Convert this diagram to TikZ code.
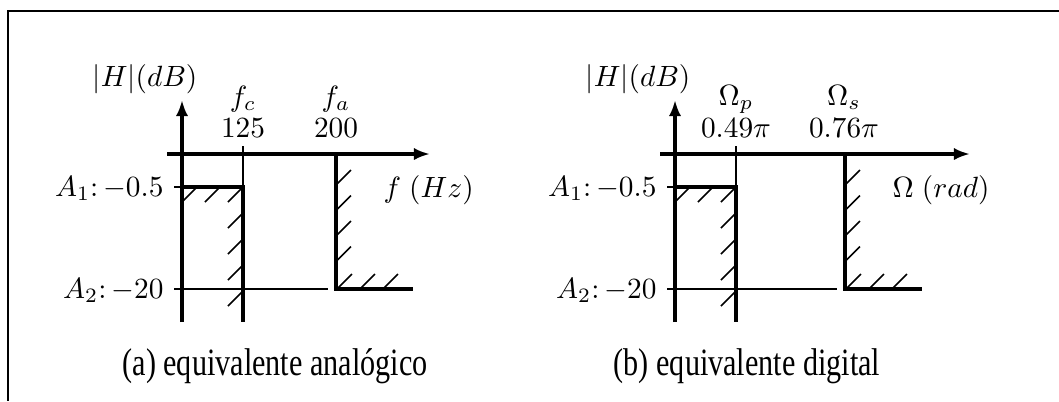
\documentclass[tikz,border=0pt]{standalone}
\usepackage{fontspec}
\newfontfamily\capfont{Liberation Serif}
\usetikzlibrary{arrows.meta}
\begin{document}
\begin{tikzpicture}[x=0.3413pt,y=-0.3413pt,
  axis/.style={line width=1.37pt,-{Latex[length=5.5pt,width=4.2pt]}},
  bold/.style={line width=1.37pt},
  fine/.style={line width=0.35pt},
  hatch/.style={line width=0.5pt},
  frame/.style={line width=0.4pt},
  lbl/.style={inner sep=0pt,anchor=base},
  captxt/.style={inner sep=0pt,anchor=base,font=\capfont\fontsize{13.2}{15}\selectfont}]
\path[use as bounding box] (0,0) rectangle (1059,401);
% frame
\coordinate (fTL) at (8,11);
\coordinate (fTR) at (1059,11);
\coordinate (fBL) at (8,401);
\draw[frame] (fTR) -- (fTL) -- (fBL);

% ---------------- panel (a)
\coordinate (a-ybot) at (182,322);
\coordinate (a-ytop) at (182,100);
\coordinate (a-xl) at (167,154);
\coordinate (a-xr) at (430,154);
\coordinate (a-p1) at (182,187);
\coordinate (a-p2) at (243,187);
\coordinate (a-p3) at (243,322);
\coordinate (a-t) at (243,146);
\coordinate (a-A1) at (174,187);
\coordinate (a-A2) at (174,289);
\coordinate (a-A2e) at (328,289);
\coordinate (a-s1) at (336,154);
\coordinate (a-s2) at (336,289);
\coordinate (a-s3) at (413,289);
\draw[fine] (a-t) -- (a-p2);
\draw[fine] (a-A1) -- (a-p1);
\draw[fine] (a-A2) -- (a-A2e);
\draw[axis] (a-ybot) -- (a-ytop);
\draw[axis] (a-xl) -- (a-xr);
\draw[bold] (a-p1) -- (a-p2) -- (a-p3);
\draw[bold] (a-s1) -- (a-s2) -- (a-s3);
\foreach \x in {197,220,243} \draw[hatch] ({\x-15},202) -- (\x,187);
\foreach \y in {213,239,265,291} \draw[hatch] (228,{\y+15}) -- (243,\y);
\foreach \y in {170,195.5,221,246.5} \draw[hatch] (336,{\y+15}) -- (351,\y);
\foreach \x in {337,360,383} \draw[hatch] (\x,289) -- ({\x+15},274);
\node[lbl] (a-H) at (145,86) {$|H|(dB)$};
\node[lbl] (a-fc) at (243,106) {$f_c$};
\node[lbl] (a-125) at (243,137) {$125$};
\node[lbl] (a-fa) at (336,106) {$f_a$};
\node[lbl] (a-200) at (336,137) {$200$};
\node[lbl,anchor=base west] (a-f) at (383,197) {$f\;(Hz)$};
\node[lbl,anchor=base east] (a-A1l) at (164,196) {$A_1\colon -0.5$};
\node[lbl,anchor=base east] (a-A2l) at (164,298) {$A_2\colon -20$};
\node[captxt] (a-cap) at (275,375) {\scalebox{0.78}[1]{(a) equivalente analógico}};

% ---------------- panel (b)
\coordinate (b-ybot) at (675,322);
\coordinate (b-ytop) at (675,100);
\coordinate (b-xl) at (660,154);
\coordinate (b-xr) at (970,154);
\coordinate (b-p1) at (675,187);
\coordinate (b-p2) at (736,187);
\coordinate (b-p3) at (736,322);
\coordinate (b-t) at (736,146);
\coordinate (b-A1) at (667,187);
\coordinate (b-A2) at (667,289);
\coordinate (b-A2e) at (837,289);
\coordinate (b-s1) at (845,154);
\coordinate (b-s2) at (845,289);
\coordinate (b-s3) at (922,289);
\draw[fine] (b-t) -- (b-p2);
\draw[fine] (b-A1) -- (b-p1);
\draw[fine] (b-A2) -- (b-A2e);
\draw[axis] (b-ybot) -- (b-ytop);
\draw[axis] (b-xl) -- (b-xr);
\draw[bold] (b-p1) -- (b-p2) -- (b-p3);
\draw[bold] (b-s1) -- (b-s2) -- (b-s3);
\foreach \x in {690,713,736} \draw[hatch] ({\x-15},202) -- (\x,187);
\foreach \y in {213,239,265,291} \draw[hatch] (721,{\y+15}) -- (736,\y);
\foreach \y in {170,195.5,221,246.5} \draw[hatch] (845,{\y+15}) -- (860,\y);
\foreach \x in {846,869,892} \draw[hatch] (\x,289) -- ({\x+15},274);
\node[lbl] (b-H) at (638,86) {$|H|(dB)$};
\node[lbl] (b-Op) at (736,105) {$\Omega_p$};
\node[lbl] (b-049) at (736,137) {$0.49\pi$};
\node[lbl] (b-Os) at (844,105) {$\Omega_s$};
\node[lbl] (b-076) at (844,137) {$0.76\pi$};
\node[lbl,anchor=base west] (b-O) at (892,197) {$\Omega\;(rad)$};
\node[lbl,anchor=base east] (b-A1l) at (657,196) {$A_1\colon -0.5$};
\node[lbl,anchor=base east] (b-A2l) at (657,298) {$A_2\colon -20$};
\node[captxt] (b-cap) at (747,375) {\scalebox{0.78}[1]{(b) equivalente digital}};
\end{tikzpicture}
\end{document}
